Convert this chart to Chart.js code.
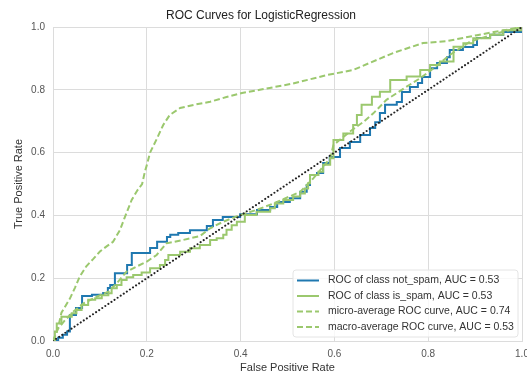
<!DOCTYPE html>
<html>
<head>
<meta charset="utf-8">
<script src="https://cdn.jsdelivr.net/npm/chart.js@4/dist/chart.umd.min.js"></script>
<style>
  body { margin: 0; background: #fff; }
</style>
</head>
<body>
<canvas id="rocChart" width="527" height="376"></canvas>
<script>
// data
let tickValues = [0, 0.2, 0.4, 0.6, 0.8, 1.0];

let seriesLabels = [
    'ROC of class not_spam, AUC = 0.53',
    'ROC of class is_spam, AUC = 0.53',
    'micro-average ROC curve, AUC = 0.74',
    'macro-average ROC curve, AUC = 0.53'
];

let notSpamFpr = [0, 0.011, 0.021, 0.030, 0.036, 0.049, 0.062, 0.083, 0.107, 0.117, 0.122, 0.132, 0.158, 0.168, 0.207, 0.222, 0.243, 0.250, 0.267, 0.292, 0.328, 0.341, 0.362, 0.399, 0.435, 0.463, 0.478, 0.505, 0.527, 0.541, 0.548, 0.563, 0.576, 0.590, 0.612, 0.633, 0.655, 0.676, 0.687, 0.697, 0.708, 0.733, 0.744, 0.761, 0.778, 0.787, 0.804, 0.819, 0.840, 0.846, 0.874, 0.896, 0.904, 0.932, 0.960, 1.0];
let notSpamTpr = [0, 0.010, 0.020, 0.030, 0.083, 0.105, 0.143, 0.147, 0.153, 0.169, 0.178, 0.216, 0.242, 0.280, 0.296, 0.316, 0.331, 0.338, 0.344, 0.353, 0.366, 0.385, 0.395, 0.404, 0.417, 0.427, 0.443, 0.455, 0.475, 0.497, 0.529, 0.535, 0.567, 0.586, 0.615, 0.634, 0.656, 0.678, 0.697, 0.726, 0.752, 0.761, 0.793, 0.809, 0.822, 0.841, 0.869, 0.885, 0.904, 0.927, 0.936, 0.943, 0.965, 0.975, 0.984, 1.0];

let isSpamFpr = [0, 0.004, 0.008, 0.018, 0.040, 0.050, 0.061, 0.075, 0.090, 0.104, 0.118, 0.125, 0.136, 0.146, 0.157, 0.171, 0.189, 0.207, 0.228, 0.239, 0.246, 0.271, 0.292, 0.313, 0.335, 0.349, 0.363, 0.370, 0.381, 0.392, 0.409, 0.434, 0.463, 0.473, 0.491, 0.512, 0.527, 0.537, 0.544, 0.548, 0.566, 0.576, 0.591, 0.598, 0.619, 0.640, 0.648, 0.658, 0.680, 0.697, 0.719, 0.754, 0.783, 0.804, 0.825, 0.854, 0.875, 0.896, 0.932, 0.960, 1.0];
let isSpamTpr = [0, 0.030, 0.056, 0.077, 0.088, 0.099, 0.115, 0.131, 0.136, 0.146, 0.152, 0.168, 0.178, 0.194, 0.203, 0.210, 0.218, 0.232, 0.242, 0.258, 0.274, 0.284, 0.295, 0.306, 0.322, 0.327, 0.338, 0.354, 0.369, 0.380, 0.401, 0.412, 0.423, 0.438, 0.449, 0.460, 0.470, 0.486, 0.502, 0.529, 0.539, 0.561, 0.582, 0.640, 0.661, 0.688, 0.720, 0.752, 0.778, 0.794, 0.831, 0.842, 0.863, 0.879, 0.890, 0.937, 0.948, 0.964, 0.975, 0.990, 1.0];

let microFpr = [0, 0.006, 0.012, 0.018, 0.026, 0.036, 0.047, 0.057, 0.071, 0.085, 0.100, 0.115, 0.128, 0.143, 0.152, 0.160, 0.168, 0.180, 0.190, 0.196, 0.200, 0.207, 0.222, 0.235, 0.249, 0.271, 0.300, 0.335, 0.370, 0.403, 0.441, 0.512, 0.584, 0.640, 0.690, 0.725, 0.789, 0.840, 0.904, 0.940, 1.0];
let microTpr = [0, 0.020, 0.050, 0.090, 0.110, 0.135, 0.170, 0.205, 0.238, 0.260, 0.285, 0.302, 0.316, 0.354, 0.390, 0.420, 0.450, 0.480, 0.500, 0.540, 0.560, 0.600, 0.646, 0.688, 0.720, 0.742, 0.752, 0.762, 0.777, 0.790, 0.800, 0.820, 0.847, 0.863, 0.895, 0.917, 0.949, 0.955, 0.974, 0.984, 1.0];

let macroFpr = [0, 0.011, 0.026, 0.043, 0.065, 0.093, 0.118, 0.136, 0.157, 0.178, 0.200, 0.221, 0.242, 0.278, 0.313, 0.335, 0.363, 0.399, 0.435, 0.470, 0.527, 0.555, 0.591, 0.598, 0.633, 0.662, 0.683, 0.711, 0.754, 0.783, 0.811, 0.846, 0.889, 0.946, 1.0];
let macroTpr = [0, 0.040, 0.067, 0.093, 0.120, 0.141, 0.157, 0.184, 0.221, 0.237, 0.253, 0.274, 0.311, 0.322, 0.334, 0.359, 0.380, 0.401, 0.418, 0.438, 0.475, 0.518, 0.582, 0.624, 0.667, 0.698, 0.725, 0.768, 0.810, 0.837, 0.868, 0.911, 0.953, 0.980, 1.0];

let diagX = [0, 1];
let diagY = [0, 1];

let blue = '#1f78b0';
let green = '#9bc86e';
let fontName = "'Liberation Sans', Arial, sans-serif";

let toPoints = function (xs, ys) {
    return xs.map(function (x, i) { return { x: x, y: ys[i] }; });
};

// legend drawn inside the plot, lower right, like matplotlib
let insideLegend = {
    id: 'insideLegend',
    afterDatasetsDraw: function (chart) {
        let ctx = chart.ctx;
        let area = chart.chartArea;
        let w = 225, h = 67;
        let x = area.right - 4 - w;
        let y = area.bottom - 4 - h;
        ctx.save();
        ctx.beginPath();
        ctx.roundRect(x, y, w, h, 3);
        ctx.fillStyle = 'rgba(255,255,255,0.8)';
        ctx.fill();
        ctx.strokeStyle = '#e4e4e4';
        ctx.lineWidth = 1;
        ctx.stroke();
        ctx.font = '10.5px ' + fontName;
        ctx.textBaseline = 'middle';
        ctx.fillStyle = '#333';
        let legendSets = chart.data.datasets.filter(function (d) { return d.label; });
        legendSets.forEach(function (ds, i) {
            let rowY = y + 10.5 + i * 15.5;
            ctx.beginPath();
            ctx.strokeStyle = ds.borderColor;
            ctx.lineWidth = ds.borderWidth;
            ctx.setLineDash(ds.borderDash || []);
            ctx.moveTo(x + 4, rowY);
            ctx.lineTo(x + 26, rowY);
            ctx.stroke();
            ctx.setLineDash([]);
            ctx.fillText(ds.label, x + 35, rowY);
        });
        ctx.restore();
    }
};

let rocChartDraw = function () {
    let painter = document.getElementById('rocChart').getContext('2d');
    window.rocChart = new Chart(painter, {
        type: 'line',
        data: {
            datasets: [{
                label: seriesLabels[0],
                data: toPoints(notSpamFpr, notSpamTpr),
                borderColor: blue,
                borderWidth: 2,
                stepped: 'before',
                order: 4,
            }, {
                label: seriesLabels[1],
                data: toPoints(isSpamFpr, isSpamTpr),
                borderColor: green,
                borderWidth: 2,
                stepped: 'before',
                order: 3,
            }, {
                label: seriesLabels[2],
                data: toPoints(microFpr, microTpr),
                borderColor: green,
                borderWidth: 2,
                borderDash: [6, 3],
                order: 2,
            }, {
                label: seriesLabels[3],
                data: toPoints(macroFpr, macroTpr),
                borderColor: green,
                borderWidth: 2,
                borderDash: [6, 3],
                order: 1,
            }, {
                data: toPoints(diagX, diagY),
                borderColor: '#222',
                borderWidth: 2,
                borderDash: [0.1, 3.6],
                borderCapStyle: 'round',
                order: 0,
            }]
        },
        options: {
            responsive: false,
            animation: false,
            events: [],
            elements: {
                point: { radius: 0 },
                line: { tension: 0, fill: false }
            },
            layout: {
                padding: { left: 0, right: 5, top: 0, bottom: 0 }
            },
            scales: {
                x: {
                    type: 'linear',
                    min: 0,
                    max: 1,
                    afterBuildTicks: function (scale) {
                        scale.ticks = tickValues.map(function (v) { return { value: v }; });
                    },
                    afterFit: function (scale) {
                        scale.height = 35;
                        scale.paddingLeft = 0;
                        scale.paddingRight = 0;
                    },
                    ticks: {
                        callback: function (v) { return v.toFixed(1); },
                        color: '#555',
                        padding: 7,
                        maxRotation: 0,
                        font: { family: fontName, size: 10 }
                    },
                    grid: { color: '#dcdcdc', drawTicks: false },
                    border: { color: '#dcdcdc' },
                    title: {
                        display: true,
                        text: 'False Positive Rate',
                        color: '#333',
                        padding: { top: 0, bottom: 1.4 },
                        font: { family: fontName, size: 11 }
                    }
                },
                y: {
                    type: 'linear',
                    min: 0,
                    max: 1,
                    afterBuildTicks: function (scale) {
                        scale.ticks = tickValues.map(function (v) { return { value: v }; });
                    },
                    afterFit: function (scale) {
                        scale.width = 53;
                        scale.paddingTop = 0;
                        scale.paddingBottom = 0;
                    },
                    ticks: {
                        callback: function (v) { return v.toFixed(1); },
                        color: '#555',
                        padding: 8,
                        font: { family: fontName, size: 10 }
                    },
                    grid: { color: '#dcdcdc', drawTicks: false },
                    border: { color: '#dcdcdc' },
                    title: {
                        display: true,
                        text: 'True Positive Rate',
                        color: '#333',
                        padding: { top: 12.4, bottom: 0 },
                        font: { family: fontName, size: 11 }
                    }
                }
            },
            plugins: {
                legend: { display: false },
                tooltip: { enabled: false },
                title: {
                    display: true,
                    text: 'ROC Curves for LogisticRegression',
                    color: '#222',
                    padding: { top: 8.8, bottom: 3.8 },
                    font: { family: fontName, size: 12, weight: 'normal' }
                }
            }
        },
        plugins: [insideLegend]
    });
};

window.onload = function () {
    rocChartDraw();
};
</script>
</body>
</html>
